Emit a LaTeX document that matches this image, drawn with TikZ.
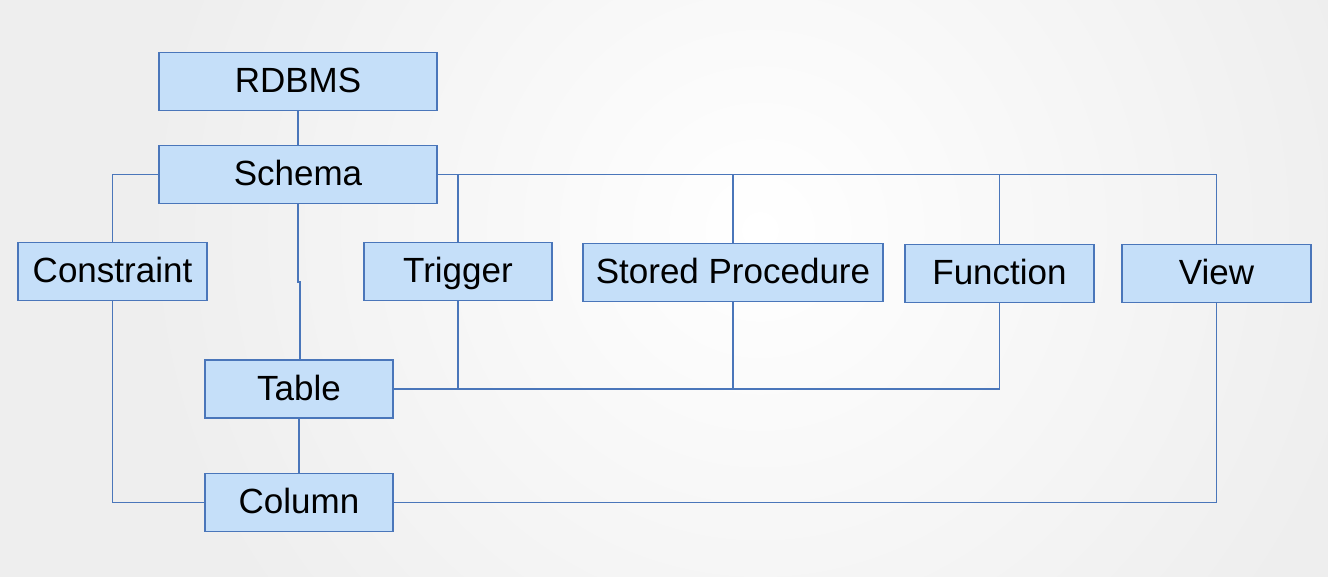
\documentclass[tikz,border=0pt]{standalone}
\usepackage{fontspec}
\setmainfont{Liberation Sans}
\definecolor{boxfill}{RGB}{197,223,249}
\definecolor{boxline}{RGB}{74,118,186}
\definecolor{bgedge}{RGB}{238,238,238}
\tikzset{
  ent/.style={draw=boxline, fill=boxfill, line width=1.3pt, minimum height=58pt, inner sep=0pt, text height=28pt, text depth=6pt, font=\fontsize{35}{38}\selectfont, text=black},
  conn/.style={draw=boxline, line width=1.2pt}
}
\begin{document}
\begin{tikzpicture}[x=1pt,y=-1pt]
\useasboundingbox (0,0) rectangle (1328,577);
\begin{scope}
\clip (0,0) rectangle (1328,577);
\fill[bgedge] (0,0) rectangle (1328,577);
\shade[inner color=white, outer color=bgedge] (760,230) circle (620);
\end{scope}
\node[ent, minimum width=278pt] (rdbms) at (298,81.5) {RDBMS};
\node[ent, minimum width=278pt] (schema) at (298,174.5) {Schema};
\node[ent, minimum width=189pt] (constraint) at (112.5,271.5) {Constraint};
\node[ent, minimum width=188pt] (trigger) at (458,271.5) {Trigger};
\node[ent, minimum width=300pt] (sp) at (733,272.5) {Stored Procedure};
\node[ent, minimum width=189pt] (function) at (999.5,273.5) {Function};
\node[ent, minimum width=189pt] (view) at (1216.5,273.5) {View};
\node[ent, minimum width=188pt] (table) at (299,389) {Table};
\node[ent, minimum width=188pt] (column) at (299,502.5) {Column};
\coordinate (jog1) at (298,282);
\coordinate (jog2) at (300,282);
\draw[conn] (rdbms.south) -- (schema.north);
\draw[conn] (schema.west) -| (constraint.north);
\draw[conn] (schema.east) -| (view.north);
\draw[conn] (schema.east) -| (trigger.north);
\draw[conn] (schema.east) -| (sp.north);
\draw[conn] (schema.east) -| (function.north);
\draw[conn] (schema.south) -- (jog1) -- (jog2) -- (table.north -| jog2);
\draw[conn] (table.east) -| (function.south);
\draw[conn] (table.east) -| (trigger.south);
\draw[conn] (table.east) -| (sp.south);
\draw[conn] (table.south) -- (column.north);
\draw[conn] (constraint.south) |- (column.west);
\draw[conn] (column.east) -| (view.south);
\end{tikzpicture}
\end{document}
